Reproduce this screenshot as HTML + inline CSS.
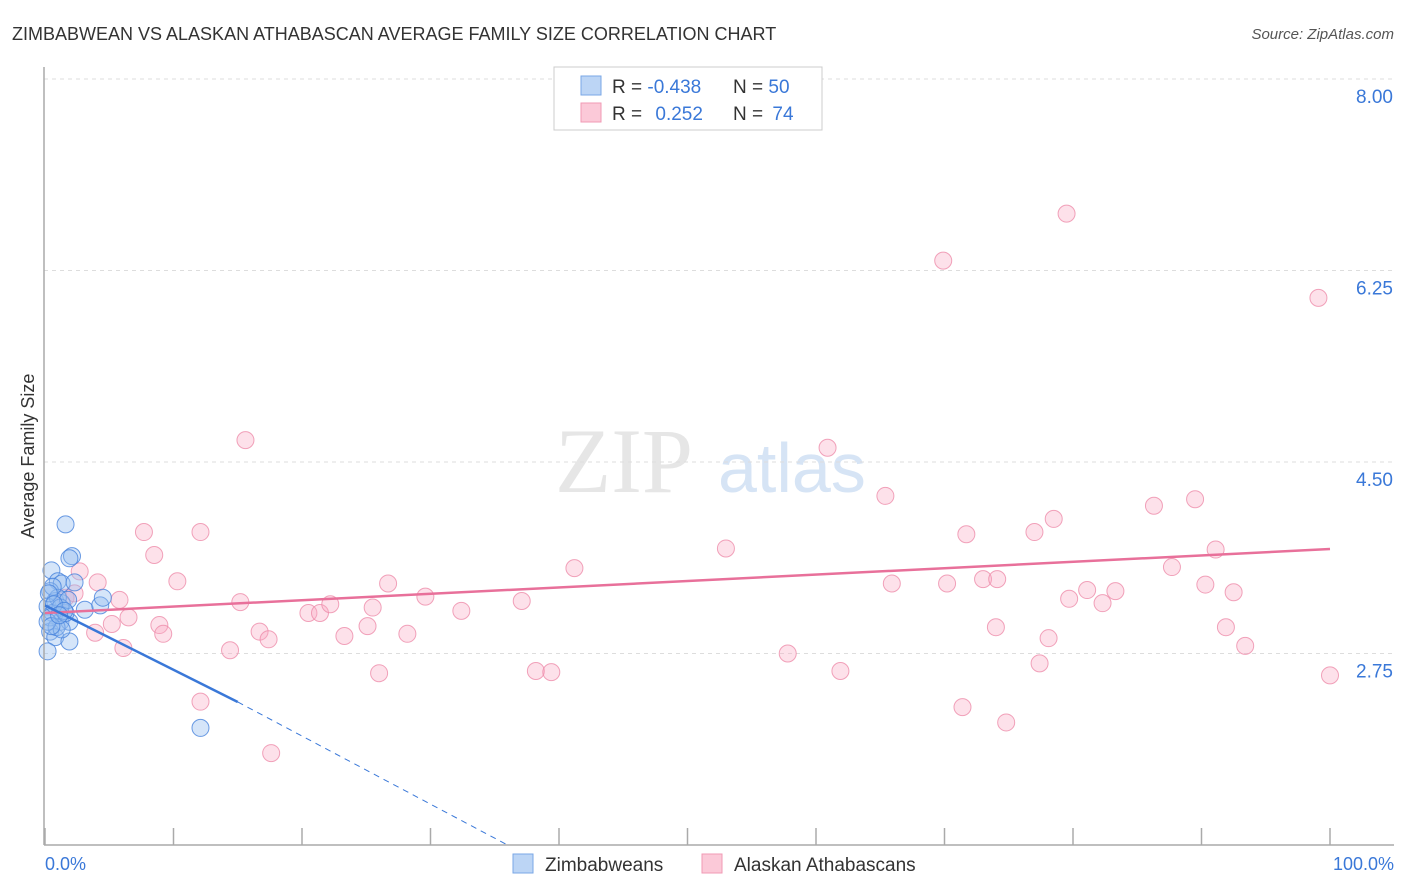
<!DOCTYPE html>
<html><head><meta charset="utf-8">
<style>
body{margin:0;background:#fff;font-family:"Liberation Sans",sans-serif;}
#wrap{position:relative;width:1406px;height:892px;overflow:hidden;}
</style></head>
<body><div id="wrap">
<svg id="svg" width="1406" height="892" xmlns="http://www.w3.org/2000/svg">
<text x="12" y="40" font-size="18" fill="#333">ZIMBABWEAN VS ALASKAN ATHABASCAN AVERAGE FAMILY SIZE CORRELATION CHART</text>
<text x="1394" y="39" font-size="15" fill="#555" font-style="italic" text-anchor="end">Source: ZipAtlas.com</text>
<text transform="translate(34,456) rotate(-90)" font-size="18" fill="#333" text-anchor="middle">Average Family Size</text>
<text x="555" y="492" font-size="92" fill="#e6e6e6" font-family="Liberation Serif,serif">ZIP</text>
<text x="718" y="492" font-size="70" fill="#d6e4f5">atlas</text>
<g id="grid"></g><g id="pts"></g><g id="lines"></g>
<line x1="44" y1="67" x2="44" y2="845" stroke="#aaa" stroke-width="1.5"/>
<line x1="44" y1="845" x2="1394" y2="845" stroke="#aaa" stroke-width="1.5"/>
<g id="ticks"></g>
<text x="45" y="870" font-size="18" fill="#3a78d8">0.0%</text>
<text x="1394" y="870" font-size="18" fill="#3a78d8" text-anchor="end">100.0%</text>
<g>
<rect x="554" y="67" width="268" height="63" fill="#fff" stroke="#ccc"/>
<rect x="581" y="76" width="20" height="19" fill="#bcd5f5" stroke="#7aa7e6"/>
<rect x="581" y="103" width="20" height="19" fill="#fbc9d8" stroke="#f09ab4"/>
<text x="612" y="93" font-size="19" fill="#333">R = <tspan fill="#3a78d8">-0.438</tspan></text>
<text x="733" y="93" font-size="19" fill="#333">N = <tspan fill="#3a78d8">50</tspan></text>
<text x="612" y="120" font-size="19" fill="#333">R = <tspan fill="#3a78d8" dx="8">0.252</tspan></text>
<text x="733" y="120" font-size="19" fill="#333">N = <tspan fill="#3a78d8" dx="4">74</tspan></text>
</g>
<g>
<rect x="513" y="854" width="20" height="19" fill="#bcd5f5" stroke="#7aa7e6"/>
<text x="545" y="871" font-size="19" fill="#333">Zimbabweans</text>
<rect x="702" y="854" width="20" height="19" fill="#fbc9d8" stroke="#f09ab4"/>
<text x="734" y="871" font-size="19" fill="#333">Alaskan Athabascans</text>
</g>
</svg></div>
<script>
const yTicks=[2.75,4.50,6.25,8.00];
const yTickLabels=["2.75","4.50","6.25","8.00"];
const xTicks=[0,10,20,30,40,50,60,70,80,90,100];
const blueX=[1.6,2.1,1.9,0.5,1.0,1.3,0.4,0.8,0.2,0.6,1.2,1.9,0.4,0.8,0.2,1.9,3.1,4.3,4.5,12.1,1.6,1.3,1.0,0.6,1.2,1.8,0.4,0.9,1.3,0.2,0.3,0.7,1.5,2.3,0.5,1.1];
const blueY=[3.93,3.64,3.62,3.51,3.41,3.39,3.32,3.23,3.18,3.12,3.04,3.04,2.95,2.90,2.77,2.86,3.15,3.19,3.26,2.07,3.12,3.21,3.26,3.36,3.17,3.24,3.08,2.99,2.97,3.04,3.30,3.20,3.14,3.40,3.00,3.10];
const pinkX=[1.6,2.7,2.3,4.1,3.9,5.2,5.8,6.1,6.5,7.7,8.5,8.9,9.2,10.3,12.1,12.1,14.4,15.2,15.6,16.7,17.4,17.6,20.5,21.4,22.2,23.3,25.1,25.5,26.0,26.7,28.2,29.6,32.4,37.1,38.2,39.4,41.2,52.99,57.8,60.9,61.9,65.4,65.9,69.9,70.2,71.4,71.7,73.0,74.0,74.1,74.8,77.0,77.4,78.1,78.5,79.5,79.7,81.1,82.3,83.3,86.3,87.7,89.5,90.3,91.1,91.9,92.5,93.4,99.1,100];
const pinkY=[3.26,3.50,3.30,3.40,2.94,3.02,3.24,2.80,3.08,3.86,3.65,3.01,2.93,3.41,3.86,2.31,2.78,3.22,4.70,2.95,2.88,1.84,3.12,3.12,3.20,2.91,3.00,3.17,2.57,3.39,2.93,3.27,3.14,3.23,2.59,2.58,3.53,3.71,2.75,4.63,2.59,4.19,3.39,6.34,3.39,2.26,3.84,3.43,2.99,3.43,2.12,3.86,2.66,2.89,3.98,6.77,3.25,3.33,3.21,3.32,4.10,3.54,4.16,3.38,3.70,2.99,3.31,2.82,6.00,2.55];
const pinkTrend=[[0,3.12],[100,3.705]];
const blueTrendSolid=[[0,3.19],[15,2.307]];
const blueTrendDash=[[15,2.307],[36,1.0]];
const X=v=>45+v*12.85, Y=v=>79+(8-v)*109.43;
const NS="http://www.w3.org/2000/svg";
function mk(t,a,p){const e=document.createElementNS(NS,t);for(const k in a)e.setAttribute(k,a[k]);document.getElementById(p).appendChild(e);return e;}
yTicks.forEach((t,i)=>{
 const g=mk('line',{x1:44,x2:1394,y1:Y(t),y2:Y(t),stroke:'#ddd','stroke-dasharray':'4,4'},'grid');
 
 
 const l=mk('text',{x:1393,y:Y(t)+24,'font-size':19,fill:'#3a78d8','text-anchor':'end'},'grid');
 l.textContent=yTickLabels[i];
 
 
});
xTicks.forEach(t=>{
 const e=mk('line',{x1:X(t),x2:X(t),y1:828,y2:845,stroke:'#aaa','stroke-width':1.5},'ticks');
 
 
});
pinkX.forEach((x,i)=>{
 const c=mk('circle',{cx:X(x),cy:Y(pinkY[i]),r:8.5,fill:'rgba(248,170,195,0.35)',stroke:'rgba(238,140,170,0.8)','stroke-width':1},'pts');
 
 
});
blueX.forEach((x,i)=>{
 const c=mk('circle',{cx:X(x),cy:Y(blueY[i]),r:8.5,fill:'rgba(150,190,240,0.4)',stroke:'rgba(70,130,220,0.8)','stroke-width':1},'pts');
 
 
});
function ln(p,st,dash,name){
 const a={x1:X(p[0][0]),y1:Y(p[0][1]),x2:X(p[1][0]),y2:Y(p[1][1]),stroke:st,'stroke-width':dash?1:2.5};
 if(dash)a['stroke-dasharray']='6,5';
 const e=mk('line',a,'lines');
 
 
}
ln(pinkTrend,'#e8709a',false,'trend-athabascan');
ln(blueTrendSolid,'#3a78d8',false,'trend-zimbabwean');
ln(blueTrendDash,'#3a78d8',true,'trend-zimbabwean-extrapolated');
</script>
</body></html>
